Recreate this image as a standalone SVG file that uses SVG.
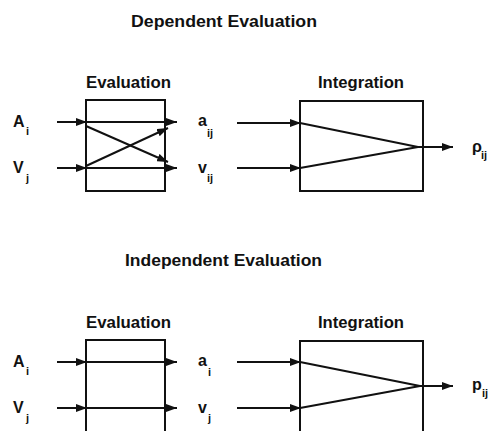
<svg xmlns="http://www.w3.org/2000/svg" width="493" height="431" viewBox="0 0 493 431">
<style>
text{font-family:"Liberation Sans",Arial,sans-serif;fill:#111;font-size:16px;font-weight:bold}
.sub{font-size:11px}
.box{fill:none;stroke:#111;stroke-width:2}
.ln{fill:none;stroke:#111;stroke-width:2;marker-end:url(#ah)}
.pl{fill:none;stroke:#111;stroke-width:2}
</style>
<defs>
<marker id="ah" markerUnits="userSpaceOnUse" markerWidth="11" markerHeight="8" refX="11" refY="4" orient="auto">
<path d="M0,0 L11,4 L0,8 z" fill="#111"/>
</marker>
</defs>
<g id="title-dependent"><text x="131" y="27" textLength="186" lengthAdjust="spacingAndGlyphs">Dependent Evaluation</text></g>
<g id="title-independent"><text x="125" y="266" textLength="197" lengthAdjust="spacingAndGlyphs">Independent Evaluation</text></g>

<g id="eval-top">
<rect class="box" x="86" y="100" width="79" height="91"/>
<text x="86" y="88" textLength="85" lengthAdjust="spacingAndGlyphs">Evaluation</text>
</g>
<g id="integ-top">
<rect class="box" x="300" y="101" width="123" height="90"/>
<text x="318" y="88" textLength="86" lengthAdjust="spacingAndGlyphs">Integration</text>
</g>
<g id="eval-bottom">
<path class="box" d="M86,432 V340 H165 V432"/>
<text x="86" y="328" textLength="85" lengthAdjust="spacingAndGlyphs">Evaluation</text>
</g>
<g id="integ-bottom">
<path class="box" d="M300,432 V341 H423 V432"/>
<text x="318" y="328" textLength="86" lengthAdjust="spacingAndGlyphs">Integration</text>
</g>

<g id="labels">
<text x="13" y="127">A</text><text class="sub" x="26" y="135">i</text>
<text x="13" y="173">V</text><text class="sub" x="26" y="182">j</text>
<text x="198" y="126">a</text><text class="sub" x="207" y="137">ij</text>
<text x="198" y="173">v</text><text class="sub" x="207" y="182">ij</text>
<text x="472" y="152">ρ</text><text class="sub" x="481" y="159">ij</text>
<text x="13" y="367">A</text><text class="sub" x="26" y="375">i</text>
<text x="13" y="413">V</text><text class="sub" x="26" y="422">j</text>
<text x="198" y="366">a</text><text class="sub" x="208" y="376">i</text>
<text x="198" y="413">v</text><text class="sub" x="208" y="422">j</text>
<text x="472" y="390">p</text><text class="sub" x="482" y="397">ij</text>
</g>

<g id="connectors">
<line class="ln" x1="57" y1="122" x2="87" y2="122"/>
<line class="ln" x1="57" y1="168" x2="87" y2="168"/>
<line class="ln" x1="86" y1="122" x2="177" y2="122"/>
<line class="ln" x1="86" y1="168" x2="177" y2="168"/>
<line class="ln" x1="86" y1="126" x2="168" y2="162"/>
<line class="ln" x1="86" y1="166" x2="168" y2="128"/>
<line class="ln" x1="237" y1="123" x2="301" y2="123"/>
<line class="ln" x1="237" y1="168" x2="301" y2="168"/>
<polyline class="pl" points="300,123 418,147 300,168"/>
<line class="ln" x1="418" y1="147" x2="453" y2="147"/>
<line class="ln" x1="57" y1="362" x2="87" y2="362"/>
<line class="ln" x1="57" y1="408" x2="87" y2="408"/>
<line class="ln" x1="86" y1="362" x2="177" y2="362"/>
<line class="ln" x1="86" y1="408" x2="177" y2="408"/>
<line class="ln" x1="237" y1="362" x2="301" y2="362"/>
<line class="ln" x1="237" y1="408" x2="301" y2="408"/>
<polyline class="pl" points="300,362 420,386 300,408"/>
<line class="ln" x1="420" y1="386" x2="453" y2="386"/>
</g>
</svg>
